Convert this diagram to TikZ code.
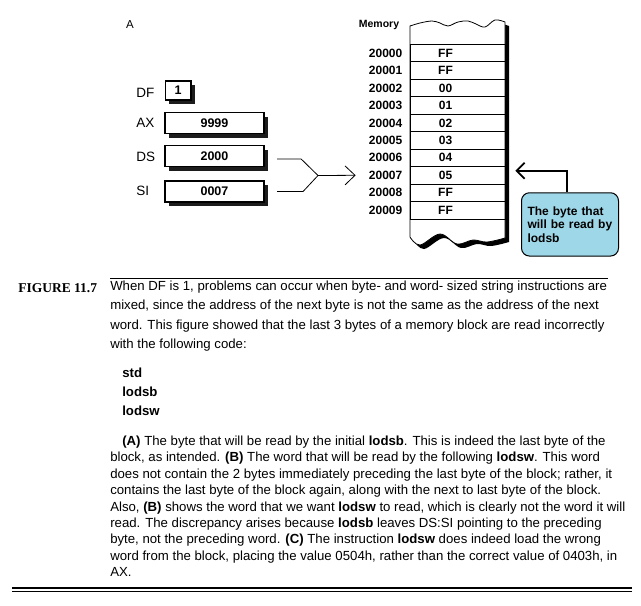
\documentclass[tikz,border=0pt]{standalone}
\usepackage{fontspec}
\setmainfont{Liberation Sans}
\newfontfamily\figfont{Liberation Serif}
\usetikzlibrary{positioning}
\usetikzlibrary{shadows}
\usetikzlibrary{arrows.meta}
\definecolor{notefill}{RGB}{158,216,232}
\definecolor{regshade}{RGB}{28,28,28}
\newcommand{\memoutline}{plot[smooth,tension=0.6] coordinates {(410,26) (420,23) (432,21) (440,23) (448,26) (458,22) (468,21) (476,24) (485,27) (495,20) (505,22)}
  -- plot[smooth,tension=0.6] coordinates {(505,238) (487,242) (473,240) (457,244) (440,234) (420,245) (410,237)} -- cycle}

\begin{document}
\begin{tikzpicture}[x=1pt,y=-1pt,line width=0.2mm,
  reg/.style={draw,line width=1.3pt,fill=white,inner sep=0pt,minimum height=21pt,
    font=\fontsize{12.5}{13}\selectfont\bfseries,
    drop shadow={shadow xshift=4pt,shadow yshift=-4pt,fill=regshade,opacity=1}},
  lbl/.style={inner sep=0pt,anchor=west,font=\fontsize{13.5}{14}\selectfont},
  cell/.style={draw,line width=0.8pt,minimum width=95pt,minimum height=17.47pt,inner sep=0pt},
  val/.style={inner sep=0pt,font=\fontsize{12}{12}\selectfont\bfseries},
  addr/.style={inner sep=0pt,font=\fontsize{12}{12}\selectfont\bfseries},
  note/.style={draw,line width=1pt,fill=notefill,rounded corners=8pt,minimum height=63.3pt,
    text width=85pt,align=left,inner xsep=6pt,font=\fontsize{12}{13.5}\selectfont\bfseries},
  link/.style={line width=0.8pt},
  body/.style={inner sep=0pt,anchor=base west,font=\fontsize{13.2}{14}\selectfont}]
  \useasboundingbox (0,0) rectangle (641,606);

  \node[inner sep=0pt,font=\fontsize{11.5}{12}\selectfont] (alabel) at (130,24.5) {A};

  % registers
  \node[lbl] (dfl) at (136,93)  {DF};
  \node[lbl] (axl) at (136,123) {AX};
  \node[lbl] (dsl) at (136,157) {DS};
  \node[lbl] (sil) at (136,191) {SI};
  \node[reg,minimum width=25.7pt,minimum height=19pt] (df) at (178,90.5) {1};
  \node[reg,minimum width=99pt] (ax) at (214.5,123)   {9999};
  \node[reg,minimum width=99pt] (ds) at (214.5,156.2) {2000};
  \node[reg,minimum width=99pt] (si) at (214.5,191.4) {0007};

  % memory block
  \node[inner sep=0pt,font=\fontsize{10.5}{11}\selectfont\bfseries] (memlbl) at (379,25) {Memory};
  \fill[black,shift={(4,4)}] \memoutline;
  \filldraw[fill=white,line width=0.8pt] \memoutline;
  \foreach \v [count=\i from 0] in {FF,FF,00,01,02,03,04,05,FF,FF} {
    \node[cell] (m\i) at (457.5,53+17.47*\i) {};
    \node[val] (v\i) at ([xshift=-12pt]m\i.center) {\v};
    \node[addr,left=7pt of m\i] (a\i) {2000\i};
  }

  \coordinate (join) at (318,175.5);
  \draw[link] ([xshift=12.5pt,yshift=-2.8pt]ds.east) -- ++(24,0) -- (join);
  \draw[link] ([xshift=12.5pt]si.east) -- ++(26,0) -- (join);
  \draw[link,-{Straight Barb[length=10pt,width=19pt]}] (join) -- ([xshift=-54pt]m7.west);

  \node[note] (note) at (570,224.4) {The byte that\\will be read by\\lodsb};
  \draw[line width=1.8pt,-{Straight Barb[length=8pt,width=16pt]}] ([xshift=-3.3pt]note.north) |- ([xshift=10pt,yshift=4.5pt]m7.east);

  % caption
  \draw[line width=1pt] (110,278) -- (608,278);
  \node[inner sep=0pt,anchor=base west,font=\figfont\bfseries\fontsize{13.5}{14}\selectfont] (fig) at (18,292) {FIGURE 11.7};
  \foreach \t [count=\i from 0] in {{When DF is 1, problems can occur when byte- and word- sized string instructions are},
    {mixed, since the address of the next byte is not the same as the address of the next},
    {word. This figure showed that the last 3 bytes of a memory block are read incorrectly},
    {with the following code:}}
    \node[body] (p\i) at (110,290.5+19.3*\i) {\t};
  \foreach \t [count=\i from 0] in {std,lodsb,lodsw}
    \node[body,font=\fontsize{13.2}{14}\selectfont\bfseries] (c\i) at (122,377.5+19*\i) {\t};
  \node[body] (q0) at (122,445.5) {\textbf{(A)} The byte that will be read by the initial \textbf{lodsb}. This is indeed the last byte of the};
  \foreach \t [count=\i] in {{block, as intended. \textbf{(B)} The word that will be read by the following \textbf{lodsw}. This word},
    {does not contain the 2 bytes immediately preceding the last byte of the block; rather, it},
    {contains the last byte of the block again, along with the next to last byte of the block.},
    {Also, \textbf{(B)} shows the word that we want \textbf{lodsw} to read, which is clearly not the word it will},
    {read. The discrepancy arises because \textbf{lodsb} leaves DS:SI pointing to the preceding},
    {byte, not the preceding word. \textbf{(C)} The instruction \textbf{lodsw} does indeed load the wrong},
    {word from  the block, placing the value 0504h, rather than the correct value of 0403h, in},
    {AX.}}
    \node[body] (q\i) at (110,445.5+16.4*\i) {\t};

  \draw[line width=2pt] (12,588) -- (632,588);
  \draw[line width=1pt] (12,591.5) -- (632,591.5);
\end{tikzpicture}
\end{document}
